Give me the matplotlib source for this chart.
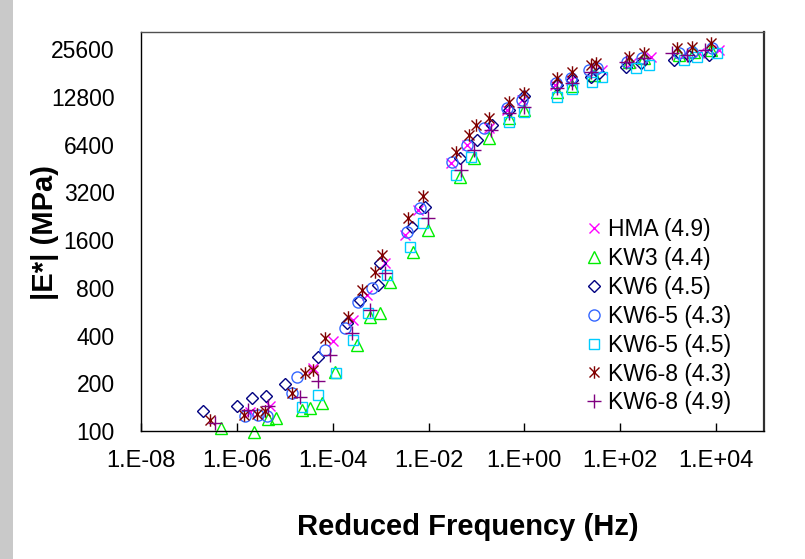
import matplotlib
matplotlib.use("Agg")
import matplotlib.pyplot as plt
from matplotlib.path import Path
from matplotlib.markers import MarkerStyle
from matplotlib.patches import Rectangle

plt.rcParams['font.family'] = ['Liberation Sans', 'DejaVu Sans']

# ---------------- data (reduced frequency in Hz, |E*| in MPa) ----------------
hma_f = [1.87e-6, 4.87e-6, 3.83e-5, 1.0e-4, 2.61e-4, 5.1e-4, 1.21e-3, 3.16e-3, 5.9e-3,
         0.0301, 0.065, 0.187, 0.443, 0.908, 4.43, 9.53, 42.2, 169, 443, 2053, 4430, 11550]
hma_e = [132, 144, 250, 369, 501, 720, 1146, 1720, 2473,
         4890, 6350, 8130, 10560, 12210, 15180, 16330, 18870, 20890, 22790, 23460, 24160, 25230]

kw3_f = [4.64e-7, 2.26e-6, 4.43e-6, 6.5e-6, 2.26e-5, 3.32e-5, 5.9e-5, 1.10e-4, 3.16e-4,
         5.9e-4, 9.53e-4, 1.54e-3, 4.64e-3, 9.53e-3, 0.0443, 0.0908, 0.187, 0.487, 1.0,
         4.87, 10, 28.7, 154, 316, 1694, 3480, 7870]
kw3_e = [104, 98.5, 119, 121, 136, 140, 150, 236, 348,
         523, 554, 870, 1344, 1850, 3990, 5260, 7030, 9400, 10560,
         13710, 14960, 17550, 21200, 22470, 23460, 24510, 25230]

kw6_f = [2.0e-7, 1.0e-6, 2.05e-6, 4.02e-6, 1.0e-5, 4.87e-5, 1.95e-4, 3.65e-4, 8.66e-4,
         9.53e-4, 4.43e-3, 8.26e-3, 0.0443, 0.105, 0.215, 0.487, 1.0, 4.87, 10, 24.9,
         36.5, 133, 274, 1334, 2738, 7145]
kw6_e = [134, 144, 161, 166, 198, 293, 480, 670, 833,
         1146, 1932, 2583, 5260, 6830, 8490, 10560, 12940, 15180, 16330, 17060,
         18070, 19720, 20890, 21830, 23120, 23460]

kw65a_f = [1.47e-6, 2.74e-6, 4.22e-6, 1.40e-5, 1.78e-5, 6.81e-5, 1.78e-4, 3.32e-4, 6.5e-4,
           3.48e-3, 6.5e-3, 0.0316, 0.065, 0.147, 0.443, 0.908, 4.64, 9.53, 22.6, 33.2,
           140, 287, 1694, 3162, 8260]
kw65a_e = [125, 126, 124, 174, 219, 324, 446, 651, 797,
           1797, 2546, 4960, 6350, 8130, 10870, 12210, 15630, 16810, 18870, 19430,
           21200, 22470, 24160, 24510, 25970]

kw65b_f = [2.26e-5, 4.87e-5, 1.15e-4, 2.61e-4, 5.36e-4, 1.33e-3, 4.02e-3, 7.5e-3, 0.0383,
           0.0787, 0.487, 1.0, 4.87, 10, 26.1, 42.2, 215, 402, 2150, 4020, 10500]
kw65b_e = [142, 169, 232, 375, 554, 962, 1445, 2048, 4110,
           5340, 8870, 10260, 12750, 14330, 15860, 17060, 19430, 20300, 21830, 22790, 24160]

kw68a_f = [2.74e-7, 1.40e-6, 2.61e-6, 3.83e-6, 1.40e-5, 2.61e-5, 3.83e-5, 6.81e-5, 2.05e-4,
           4.02e-4, 7.5e-4, 1.05e-3, 3.65e-3, 7.5e-3, 0.0383, 0.0715, 0.1, 0.187, 0.487,
           1.0, 4.87, 10, 24.9, 31.6, 154, 316, 1540, 3162, 7870]
kw68a_e = [117, 126, 128, 134, 174, 232, 242, 386, 523,
           774, 1006, 1287, 2202, 3030, 5740, 7350, 8490, 9400, 11860,
           13520, 16810, 18330, 20300, 20890, 22790, 24160, 25970, 26350, 27920]

kw68b_f = [3.48e-7, 1.69e-6, 4.43e-6, 2.05e-5, 4.87e-5, 8.66e-5, 2.49e-4, 5.9e-4, 1.21e-3,
           9.53e-3, 0.0487, 0.0908, 0.205, 0.487, 1.0, 4.87, 10, 24.9, 133, 316, 1211,
           2490, 5900]
kw68b_e = [112, 136, 144, 164, 207, 301, 415, 579, 991,
           2202, 4420, 5910, 7900, 10110, 11030, 14530, 15630, 18330, 21200, 22470, 24160,
           23460, 25230]

series_labels = ['HMA (4.9)', 'KW3 (4.4)', 'KW6 (4.5)', 'KW6-5 (4.3)',
                 'KW6-5 (4.5)', 'KW6-8 (4.3)', 'KW6-8 (4.9)']

x_ticks = [1e-8, 1e-6, 1e-4, 1e-2, 1e0, 1e2, 1e4]
x_tick_labels = ['1.E-08', '1.E-06', '1.E-04', '1.E-02', '1.E+00', '1.E+02', '1.E+04']
y_ticks = [100, 200, 400, 800, 1600, 3200, 6400, 12800, 25600]
y_tick_labels = ['100', '200', '400', '800', '1600', '3200', '6400', '12800', '25600']

# ---------------- figure ----------------
W, H = 805, 559
fig = plt.figure(figsize=(W / 100, H / 100), dpi=100)
fig.patches.append(Rectangle((0, 0), 13 / W, 1, transform=fig.transFigure,
                             facecolor='#c9c9c9', edgecolor='none', zorder=0))

ax = fig.add_axes([141 / W, 1 - 431 / H, (764 - 141) / W, (431 - 32) / H])

ast_path = Path([(-1, -1), (1, 1), (-1, 1), (1, -1), (0, -1.25), (0, 1.25)],
                [Path.MOVETO, Path.LINETO, Path.MOVETO, Path.LINETO, Path.MOVETO, Path.LINETO])

styles = [
    dict(marker='x', color='#FF00FF', ms=7.5),
    dict(marker='^', color='#00EE00', ms=8.5),
    dict(marker='D', color='#000080', ms=6),
    dict(marker='o', color='#3366FF', ms=8),
    dict(marker='s', color='#00CCFF', ms=7.5),
    dict(marker=MarkerStyle(ast_path), color='#800000', ms=9),
    dict(marker='+', color='#800080', ms=10),
]
data = [(hma_f, hma_e), (kw3_f, kw3_e), (kw6_f, kw6_e), (kw65a_f, kw65a_e),
        (kw65b_f, kw65b_e), (kw68a_f, kw68a_e), (kw68b_f, kw68b_e)]

handles = []
for (f, e), st, lab in zip(data, styles, series_labels):
    h, = ax.plot(f, e, linestyle='none', marker=st['marker'], markersize=st['ms'],
                 markerfacecolor='none', markeredgecolor=st['color'],
                 markeredgewidth=1.0, label=lab, clip_on=False)
    handles.append(h)

ax.set_xscale('log')
ax.set_yscale('log', base=2)
ax.set_xlim(1e-8, 1e5)
ax.set_ylim(100, 32768)
ax.set_xticks(x_ticks)
ax.set_xticklabels(x_tick_labels)
ax.set_yticks(y_ticks)
ax.set_yticklabels(y_tick_labels)
ax.minorticks_off()
ax.tick_params(axis='x', direction='in', length=6, width=1, pad=14, labelsize=17)
ax.tick_params(axis='y', length=0, pad=19, labelsize=16.5)

for s in ['left', 'bottom']:
    ax.spines[s].set_color('black')
    ax.spines[s].set_linewidth(1.0)
ax.spines['top'].set_color('#505050')
ax.spines['top'].set_linewidth(1.0)
ax.spines['right'].set_color('#303030')
ax.spines['right'].set_linewidth(1.6)

leg = ax.legend(handles=handles, loc='center left', bbox_to_anchor=(0.714, 0.288),
                frameon=False, fontsize=16.5, handlelength=0.7, handletextpad=0.25,
                labelspacing=0.26, borderpad=0, borderaxespad=0)

fig.text(45 / W, 1 - 232 / H, '|E*| (MPa)', rotation=90, ha='center', va='center',
         fontsize=21, fontweight='bold')
fig.text(468 / W, 1 - 527 / H, 'Reduced Frequency (Hz)', ha='center', va='center',
         fontsize=21, fontweight='bold')

fig.savefig('out.png', dpi=100)
